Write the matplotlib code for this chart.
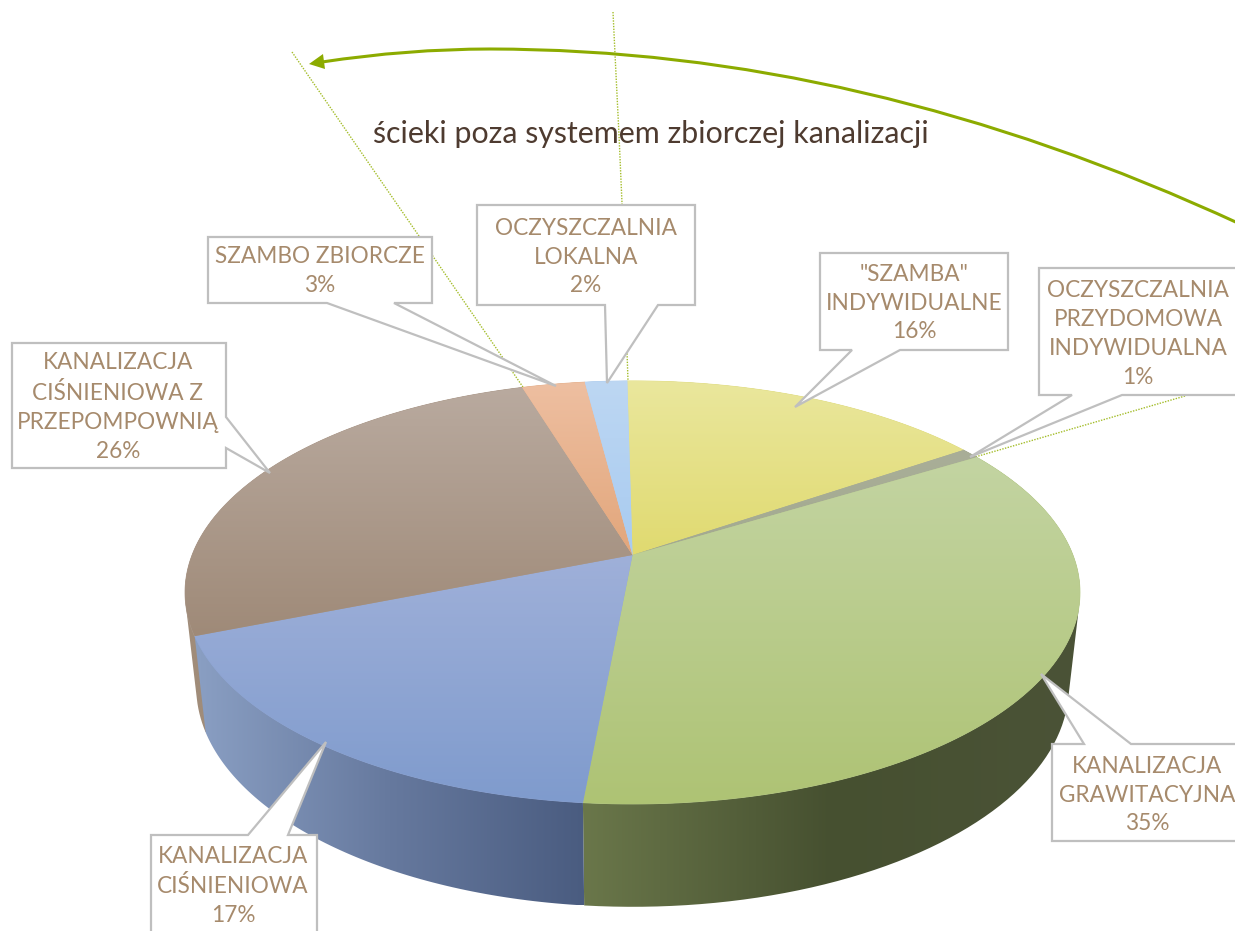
import numpy as np
import matplotlib
matplotlib.use("Agg")
import matplotlib.pyplot as plt
from matplotlib.colors import to_rgb
from matplotlib.patches import Polygon, PathPatch
from matplotlib.path import Path

plt.rcParams['font.family'] = ['Lato', 'DejaVu Sans']

# clockwise from the top of the pie
names = ['"SZAMBA"\nINDYWIDUALNE', 'OCZYSZCZALNIA\nPRZYDOMOWA\nINDYWIDUALNA', 'KANALIZACJA\nGRAWITACYJNA',
         'KANALIZACJA\nCIŚNIENIOWA', 'KANALIZACJA\nCIŚNIENIOWA Z\nPRZEPOMPOWNIĄ', 'SZAMBO ZBIORCZE',
         'OCZYSZCZALNIA\nLOKALNA']
percent = ['16%', '1%', '35%', '17%', '26%', '3%', '2%']
shares = [15.7, 0.8, 35.2, 17.49, 26.3, 2.7, 1.81]
title = 'ścieki poza systemem zbiorczej kanalizacji'

# top face gradient, top colour -> bottom colour
top_cols = [('#eae79d', '#e0da70'), ('#a9ae98', '#a3aa90'), ('#c3d4a2', '#aec374'), ('#9fb0d9', '#7f9bcd'),
            ('#b9aa9f', '#9f8a78'), ('#eebfa1', '#e2a67b'), ('#bdd7f3', '#a8cbf0')]
# side gradient stops, left -> right
side_cols = [['#8a8a50', '#8a8a50'], ['#707070', '#707070'], ['#6a774a', '#465030', '#4b5337'],
             ['#8a9fc3', '#66799e', '#4a5c80'], ['#a08c79', '#a08c79'], ['#a07a5a', '#a07a5a'],
             ['#7a90b0', '#7a90b0']]

cx, cy, A, B, k = 632.5, 555, 440.4, 204.9, 0.177
low_scale, low_B, low_cy = 0.975, 213, 648
start = -0.8


def project(theta, a=A, b=B, yc=cy):
    u = np.sin(np.radians(theta))
    v = np.cos(np.radians(theta))
    x = cx + a * u / (1 + k * v)
    y = yc - b * v / (1 + k * v)
    return x, y


def hull(xs, ys):
    # monotone chain, so the side also covers the silhouette tangents
    pts = sorted(set(zip(xs.tolist(), ys.tolist())))

    def half(points):
        out = []
        for p in points:
            while len(out) > 1 and ((out[-1][0] - out[-2][0]) * (p[1] - out[-2][1])
                                    - (out[-1][1] - out[-2][1]) * (p[0] - out[-2][0])) <= 0:
                out.pop()
            out.append(p)
        return out[:-1]
    return np.array(half(pts) + half(pts[::-1]))


def gradient_fill(ax, pts, stops, vertical=True, zorder=2):
    poly = Polygon(pts, closed=True, transform=ax.transData, facecolor='none', edgecolor='none')
    ax.add_patch(poly)
    t = np.linspace(0, 1, 256)
    pos = np.linspace(0, 1, len(stops))
    rgb = np.array([to_rgb(c) for c in stops])
    grad = np.column_stack([np.interp(t, pos, rgb[:, j]) for j in range(3)])
    grad = grad[:, None, :] if vertical else grad[None, :, :]
    im = ax.imshow(grad, extent=[pts[:, 0].min(), pts[:, 0].max(), pts[:, 1].max(), pts[:, 1].min()],
                   aspect='auto', interpolation='bilinear', zorder=zorder)
    im.set_clip_path(poly)


fig = plt.figure(figsize=(12.35, 9.31), dpi=100)
ax = fig.add_axes([0, 0, 1, 1])

edges = start + np.cumsum([0] + shares) * 3.6

# dotted leader lines, under the pie and the boxes
leader_x = [[292, 419, 463, 525], [613, 615, 619, 622, 628], [1185, 975]]
leader_y = [[52, 236, 300, 390], [12, 54, 135, 203, 381], [396, 457]]
for lx, ly in zip(leader_x, leader_y):
    ax.plot(lx, ly, color='#a4bd2a', lw=1.0, ls=(0, (1, 1)), zorder=1)

# sides, back ones first
order = [0, 1, 5, 6, 4, 2, 3]
for n, i in enumerate(order):
    th = np.linspace(edges[i], edges[i + 1], 80)
    x0, y0 = project(th)
    x1, y1 = project(th, A * low_scale, low_B, low_cy)
    pts = hull(np.concatenate([x0, x1]), np.concatenate([y0, y1]))
    gradient_fill(ax, pts, side_cols[i], vertical=False, zorder=2 + n * 0.01)

# top faces
for i in range(len(shares)):
    th = np.linspace(edges[i], edges[i + 1], 120)
    x0, y0 = project(th)
    pts = np.column_stack([np.concatenate([[cx], x0]), np.concatenate([[cy], y0])])
    # same colour underneath, hides the hairlines between the clipped gradients
    mid = np.mean([to_rgb(c) for c in top_cols[i]], axis=0)
    ax.add_patch(Polygon(pts, closed=True, facecolor=mid, edgecolor=mid, lw=0.6, zorder=2.9))
    gradient_fill(ax, pts, top_cols[i], zorder=3)

# callouts: box (left, top, right, bottom), pointer base and tip
boxes = [(820, 253, 1008, 350), (1039, 268, 1245, 395), (1052, 744, 1245, 841), (151, 835, 317, 945),
         (12, 343, 226, 468), (208, 237, 432, 303), (477, 205, 695, 305)]
tips = [(795, 407), (970, 457), (1041, 674), (326, 742), (270, 473), (556, 386), (607, 383)]
bases = [('b', 852, 900), ('b', 1072, 1122), ('t', 1084, 1131), ('t', 248, 288), ('r', 417, 448),
         ('b', 327, 394), ('b', 605, 658)]
text_pos = [(914, 303), (1138, 334), (1147, 795), (233, 886), (118, 407), (320, 271), (586, 257)]


def callout(box, base, tip):
    l, t, r, b = box
    side, p, q = base
    if side == 'b':
        return [(l, t), (r, t), (r, b), (q, b), tip, (p, b), (l, b)]
    if side == 't':
        return [(l, t), (p, t), tip, (q, t), (r, t), (r, b), (l, b)]
    return [(l, t), (r, t), (r, p), tip, (r, q), (r, b), (l, b)]


for i in range(len(names)):
    ax.add_patch(Polygon(callout(boxes[i], bases[i], tips[i]), closed=True, facecolor='white',
                         edgecolor='#bfbfbf', lw=1.6, zorder=5, joinstyle='miter'))
    ax.text(text_pos[i][0], text_pos[i][1], names[i] + '\n' + percent[i], ha='center', va='center',
            fontsize=16.3, color='#a68a6c', linespacing=1.47, zorder=6)

# arrow
arrow_col = '#8cab00'
arc = Path([(1240, 224), (862, 49), (490, 49), (407, 49), (322, 62)],
           [Path.MOVETO, Path.CURVE3, Path.CURVE3, Path.CURVE3, Path.CURVE3])
ax.add_patch(PathPatch(arc, facecolor='none', edgecolor=arrow_col, lw=2.2, zorder=4))
ax.add_patch(Polygon([(309, 64), (323, 54), (325, 69)], closed=True, facecolor=arrow_col,
                     edgecolor='none', zorder=4))

ax.text(651, 134, title, ha='center', va='center', fontsize=21.85, color='#4e3b30', zorder=6)

ax.set_xlim(0, 1235)
ax.set_ylim(931, 0)
ax.axis('off')
fig.savefig('out.png', dpi=100)
